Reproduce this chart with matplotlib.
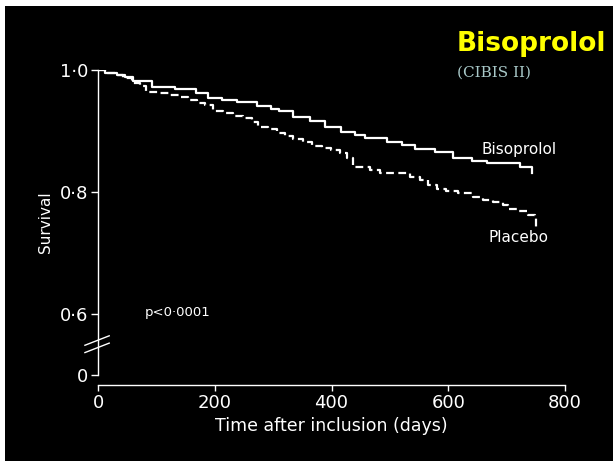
import matplotlib
matplotlib.use('Agg')
import matplotlib.pyplot as plt
from matplotlib.patches import Rectangle

# Kaplan-Meier curves (days, survival)
biso_days = [0, 12, 32, 46, 60, 92, 132, 168, 188, 212, 238, 272, 296, 310, 334,
             363, 389, 417, 440, 457, 495, 520, 543, 577, 608, 640, 666, 723, 743]
biso_surv = [1.0, 0.9956, 0.9923, 0.9893, 0.9825, 0.9726, 0.9684, 0.9618, 0.9546,
             0.9508, 0.9470, 0.9415, 0.9366, 0.9323, 0.9234, 0.9169, 0.9070, 0.8979,
             0.8934, 0.8880, 0.8820, 0.8766, 0.8705, 0.8656, 0.8562, 0.8503, 0.8470,
             0.8405, 0.8316]

plac_days = [0, 12, 32, 43, 58, 72, 83, 106, 123, 140, 154, 169, 183, 197, 214, 231,
             248, 263, 274, 291, 306, 320, 334, 351, 366, 383, 399, 415, 426, 437, 466,
             483, 534, 552, 565, 580, 597, 617, 642, 660, 677, 694, 702, 719, 737, 749,
             751]
plac_surv = [1.0, 0.9956, 0.9923, 0.9864, 0.9782, 0.9738, 0.9644, 0.9618, 0.9595,
             0.9557, 0.9508, 0.9454, 0.9426, 0.9328, 0.9300, 0.9251, 0.9221, 0.9152,
             0.9070, 0.9028, 0.8972, 0.8923, 0.8864, 0.8825, 0.8754, 0.8716, 0.8689,
             0.8634, 0.8552, 0.8415, 0.8361, 0.8307, 0.8251, 0.8197, 0.8115, 0.8044,
             0.8016, 0.7979, 0.7913, 0.7869, 0.7831, 0.7787, 0.7716, 0.7693, 0.7623,
             0.7569, 0.7405]

xticks = [0, 200, 400, 600, 800]
ytick_pos = [0.5, 0.6, 0.8, 1.0]   # 0 is drawn just below the axis break
ytick_labels = ['0', '0\u00b76', '0\u00b78', '1\u00b70']

W, H = 613, 461
fig = plt.figure(figsize=(W / 100, H / 100), dpi=100)
fig.patch.set_facecolor('white')
fig.patches.append(Rectangle((5 / W, 0), 1, (H - 6) / H, transform=fig.transFigure,
                             facecolor='black', edgecolor='none', zorder=-10))

ax = fig.add_axes([98 / W, 86 / H, 467 / W, 305 / H])
ax.set_facecolor('none')

ax.step(biso_days, biso_surv, where='post', color='white', lw=1.6)
ax.step(plac_days, plac_surv, where='post', color='white', lw=1.6,
        linestyle=(0, (3.5, 2)))

ax.set_xlim(0, 800)
ax.set_ylim(0.5, 1.0)
ax.set_xticks(xticks)
ax.set_yticks(ytick_pos)
ax.set_yticklabels(ytick_labels)

for s in ['top', 'right']:
    ax.spines[s].set_visible(False)
ax.spines['bottom'].set_position(('outward', 7))
for s in ['left', 'bottom']:
    ax.spines[s].set_color('white')
    ax.spines[s].set_linewidth(1.0)
ax.tick_params(axis='both', colors='white', labelsize=13, width=1.0)
ax.tick_params(axis='y', length=5, pad=2)
ax.tick_params(axis='x', length=4, pad=3)

ax.set_xlabel('Time after inclusion (days)', color='white', fontsize=12.5, labelpad=3)
ax.set_ylabel('Survival', color='white', fontsize=11)
ax.yaxis.set_label_coords(-0.097, 0.5)

# axis break marks
for yb in [0.089, 0.113]:
    ax.plot([-0.028, 0.024], [yb - 0.0155, yb + 0.0155], transform=ax.transAxes,
            color='white', lw=1.0, clip_on=False)

ax.text(721, 0.869, 'Bisoprolol', color='white', fontsize=11, ha='center', va='center')
ax.text(721, 0.726, 'Placebo', color='white', fontsize=11, ha='center', va='center')
ax.text(80, 0.603, 'p<0\u00b70001', color='white', fontsize=9.5, ha='left', va='center')

fig.text(457 / W, 1 - 44 / H, 'Bisoprolol', color='#ffff00', fontsize=19,
         fontweight='bold', ha='left', va='center')
fig.text(457 / W, 1 - 73 / H, '(CIBIS II)', color='#a9c9c9', fontsize=11,
         family='DejaVu Serif', ha='left', va='center')

fig.savefig('out.png', dpi=100, facecolor=fig.get_facecolor())
